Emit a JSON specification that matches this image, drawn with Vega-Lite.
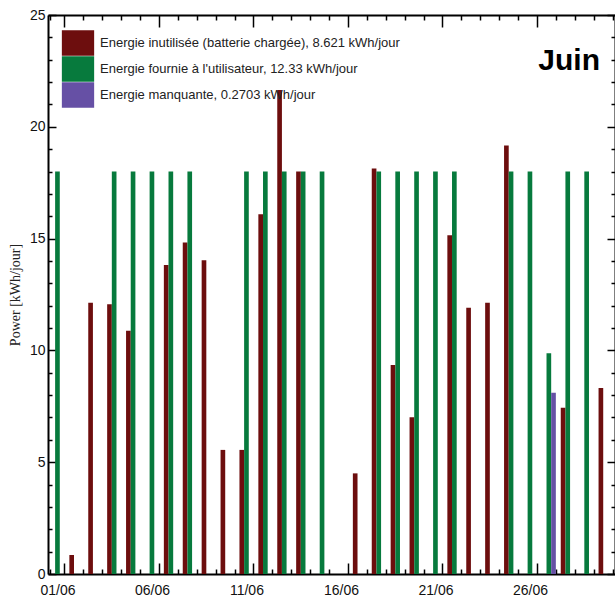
{
  "$schema": "https://vega.github.io/schema/vega-lite/v6.json",
  "width": 567,
  "height": 559,
  "autosize": {"type": "none"},
  "padding": {"left": 48, "top": 15, "right": 0, "bottom": 24},
  "background": "white",
  "title": {"text": "Juin", "anchor": "end", "frame": "group", "orient": "top", "fontSize": 30, "font": "Liberation Sans", "fontWeight": "bold", "color": "black", "baseline": "alphabetic", "offset": 0, "dy": 92, "dx": -15},
  "config": {"view": {"stroke": null}},
  "data": {"values": [
    {"jour": "01/06", "serie": "Energie fournie à l'utilisateur,  12.33 kWh/jour", "valeur": 18},
    {"jour": "02/06", "serie": "Energie inutilisée (batterie chargée),  8.621 kWh/jour", "valeur": 0.85},
    {"jour": "03/06", "serie": "Energie inutilisée (batterie chargée),  8.621 kWh/jour", "valeur": 12.13},
    {"jour": "04/06", "serie": "Energie inutilisée (batterie chargée),  8.621 kWh/jour", "valeur": 12.06},
    {"jour": "04/06", "serie": "Energie fournie à l'utilisateur,  12.33 kWh/jour", "valeur": 18},
    {"jour": "05/06", "serie": "Energie inutilisée (batterie chargée),  8.621 kWh/jour", "valeur": 10.88},
    {"jour": "05/06", "serie": "Energie fournie à l'utilisateur,  12.33 kWh/jour", "valeur": 18},
    {"jour": "06/06", "serie": "Energie fournie à l'utilisateur,  12.33 kWh/jour", "valeur": 18},
    {"jour": "07/06", "serie": "Energie inutilisée (batterie chargée),  8.621 kWh/jour", "valeur": 13.82},
    {"jour": "07/06", "serie": "Energie fournie à l'utilisateur,  12.33 kWh/jour", "valeur": 18},
    {"jour": "08/06", "serie": "Energie inutilisée (batterie chargée),  8.621 kWh/jour", "valeur": 14.83},
    {"jour": "08/06", "serie": "Energie fournie à l'utilisateur,  12.33 kWh/jour", "valeur": 18},
    {"jour": "09/06", "serie": "Energie inutilisée (batterie chargée),  8.621 kWh/jour", "valeur": 14.03},
    {"jour": "10/06", "serie": "Energie inutilisée (batterie chargée),  8.621 kWh/jour", "valeur": 5.55},
    {"jour": "11/06", "serie": "Energie inutilisée (batterie chargée),  8.621 kWh/jour", "valeur": 5.55},
    {"jour": "11/06", "serie": "Energie fournie à l'utilisateur,  12.33 kWh/jour", "valeur": 18},
    {"jour": "12/06", "serie": "Energie inutilisée (batterie chargée),  8.621 kWh/jour", "valeur": 16.09},
    {"jour": "12/06", "serie": "Energie fournie à l'utilisateur,  12.33 kWh/jour", "valeur": 18},
    {"jour": "13/06", "serie": "Energie inutilisée (batterie chargée),  8.621 kWh/jour", "valeur": 21.65},
    {"jour": "13/06", "serie": "Energie fournie à l'utilisateur,  12.33 kWh/jour", "valeur": 18},
    {"jour": "14/06", "serie": "Energie inutilisée (batterie chargée),  8.621 kWh/jour", "valeur": 18.0},
    {"jour": "14/06", "serie": "Energie fournie à l'utilisateur,  12.33 kWh/jour", "valeur": 18},
    {"jour": "15/06", "serie": "Energie fournie à l'utilisateur,  12.33 kWh/jour", "valeur": 18},
    {"jour": "17/06", "serie": "Energie inutilisée (batterie chargée),  8.621 kWh/jour", "valeur": 4.5},
    {"jour": "18/06", "serie": "Energie inutilisée (batterie chargée),  8.621 kWh/jour", "valeur": 18.14},
    {"jour": "18/06", "serie": "Energie fournie à l'utilisateur,  12.33 kWh/jour", "valeur": 18},
    {"jour": "19/06", "serie": "Energie inutilisée (batterie chargée),  8.621 kWh/jour", "valeur": 9.35},
    {"jour": "19/06", "serie": "Energie fournie à l'utilisateur,  12.33 kWh/jour", "valeur": 18},
    {"jour": "20/06", "serie": "Energie inutilisée (batterie chargée),  8.621 kWh/jour", "valeur": 7.01},
    {"jour": "20/06", "serie": "Energie fournie à l'utilisateur,  12.33 kWh/jour", "valeur": 18},
    {"jour": "21/06", "serie": "Energie fournie à l'utilisateur,  12.33 kWh/jour", "valeur": 18},
    {"jour": "22/06", "serie": "Energie inutilisée (batterie chargée),  8.621 kWh/jour", "valeur": 15.15},
    {"jour": "22/06", "serie": "Energie fournie à l'utilisateur,  12.33 kWh/jour", "valeur": 18},
    {"jour": "23/06", "serie": "Energie inutilisée (batterie chargée),  8.621 kWh/jour", "valeur": 11.91},
    {"jour": "24/06", "serie": "Energie inutilisée (batterie chargée),  8.621 kWh/jour", "valeur": 12.13},
    {"jour": "25/06", "serie": "Energie inutilisée (batterie chargée),  8.621 kWh/jour", "valeur": 19.16},
    {"jour": "25/06", "serie": "Energie fournie à l'utilisateur,  12.33 kWh/jour", "valeur": 18},
    {"jour": "26/06", "serie": "Energie fournie à l'utilisateur,  12.33 kWh/jour", "valeur": 18},
    {"jour": "27/06", "serie": "Energie fournie à l'utilisateur,  12.33 kWh/jour", "valeur": 9.87},
    {"jour": "27/06", "serie": "Energie manquante,  0.2703 kWh/jour", "valeur": 8.11},
    {"jour": "28/06", "serie": "Energie inutilisée (batterie chargée),  8.621 kWh/jour", "valeur": 7.44},
    {"jour": "28/06", "serie": "Energie fournie à l'utilisateur,  12.33 kWh/jour", "valeur": 18},
    {"jour": "29/06", "serie": "Energie fournie à l'utilisateur,  12.33 kWh/jour", "valeur": 18},
    {"jour": "30/06", "serie": "Energie inutilisée (batterie chargée),  8.621 kWh/jour", "valeur": 8.32}
  ]},
  "layer": [
    {
      "mark": {"type": "bar"},
      "encoding": {
        "x": {
          "field": "jour", "type": "ordinal",
          "scale": {"domain": ["01/06","02/06","03/06","04/06","05/06","06/06","07/06","08/06","09/06","10/06","11/06","12/06","13/06","14/06","15/06","16/06","17/06","18/06","19/06","20/06","21/06","22/06","23/06","24/06","25/06","26/06","27/06","28/06","29/06","30/06"], "paddingInner": 0.26, "paddingOuter": 0.13},
          "axis": {
            "orient": "bottom", "title": null, "labelAngle": 0,
            "tickBand": "extent",
            "labelExpr": "indexof(['01/06','06/06','11/06','16/06','21/06','26/06'], datum.value) >= 0 ? datum.value : ''",
            "labelOverlap": false,
            "labelFont": "Liberation Sans Narrow, Liberation Sans", "labelFontSize": 14, "labelColor": "#111",
            "labelPadding": 20,
            "tickSize": {"condition": {"test": "indexof(['01/06','06/06','11/06','16/06','21/06','26/06'], datum.value) >= 0", "value": -11}, "value": -5},
            "tickColor": "black", "tickWidth": 1.5,
            "domainColor": "black", "domainWidth": 2
          }
        },
        "xOffset": {"field": "serie", "type": "nominal", "scale": {"domain": ["Energie inutilisée (batterie chargée),  8.621 kWh/jour", "Energie fournie à l'utilisateur,  12.33 kWh/jour", "Energie manquante,  0.2703 kWh/jour"], "paddingInner": 0, "paddingOuter": 0}},
        "y": {
          "field": "valeur", "type": "quantitative",
          "scale": {"domain": [0, 25], "nice": false},
          "axis": {
            "orient": "left",
            "values": [0,1,2,3,4,5,6,7,8,9,10,11,12,13,14,15,16,17,18,19,20,21,22,23,24,25],
            "labelExpr": "datum.value % 5 === 0 ? datum.label : ''",
            "labelFont": "Liberation Sans Narrow, Liberation Sans", "labelFontSize": 14, "labelColor": "#111",
            "labelPadding": 11,
            "tickSize": {"condition": {"test": "datum.value % 5 === 0", "value": -8}, "value": -4},
            "tickColor": "black", "tickWidth": 1.5,
            "domainColor": "black", "domainWidth": 2,
            "grid": false,
            "title": "Power  [kWh/jour]",
            "titleFont": "Liberation Serif", "titleFontSize": 14, "titleFontWeight": "normal", "titleColor": "#222",
            "titleX": -29, "titleBaseline": "alphabetic"
          }
        },
        "color": {
          "field": "serie", "type": "nominal",
          "scale": {"domain": ["Energie inutilisée (batterie chargée),  8.621 kWh/jour", "Energie fournie à l'utilisateur,  12.33 kWh/jour", "Energie manquante,  0.2703 kWh/jour"], "range": ["#6D0E0E", "#077A3D", "#6650A5"]},
          "legend": {
            "orient": "none", "legendX": 17, "legendY": 15, "title": null, "padding": 0,
            "symbolType": "M-1.257,-1L1.257,-1L1.257,1L-1.257,1Z", "symbolSize": 660,
            "symbolStrokeWidth": 0, "symbolOpacity": 1, "rowPadding": 0, "labelOffset": 9,
            "labelFont": "Liberation Sans Narrow, Liberation Sans", "labelFontSize": 13, "labelColor": "#222", "labelLimit": 400
          }
        }
      }
    },
    {
      "mark": {"type": "bar", "opacity": 0},
      "encoding": {
        "x": {
          "field": "jour", "type": "ordinal",
          "axis": {
            "orient": "top", "title": null, "labels": false,
            "tickBand": "extent",
            "tickSize": {"condition": {"test": "indexof(['01/06','06/06','11/06','16/06','21/06','26/06'], datum.value) >= 0", "value": -12}, "value": -5},
            "tickColor": "black", "tickWidth": 1.5,
            "domainColor": "black", "domainWidth": 2
          }
        },
        "xOffset": {"field": "serie", "type": "nominal"},
        "y": {
          "field": "valeur", "type": "quantitative",
          "axis": {
            "orient": "right", "title": null, "labels": false,
            "values": [0,1,2,3,4,5,6,7,8,9,10,11,12,13,14,15,16,17,18,19,20,21,22,23,24,25],
            "tickSize": {"condition": {"test": "datum.value % 5 === 0", "value": -8}, "value": -4},
            "tickColor": "black", "tickWidth": 1.5,
            "domainColor": "black", "domainWidth": 2, "grid": false
          }
        }
      }
    }
  ],
  "resolve": {"axis": {"x": "independent", "y": "independent"}}
}
